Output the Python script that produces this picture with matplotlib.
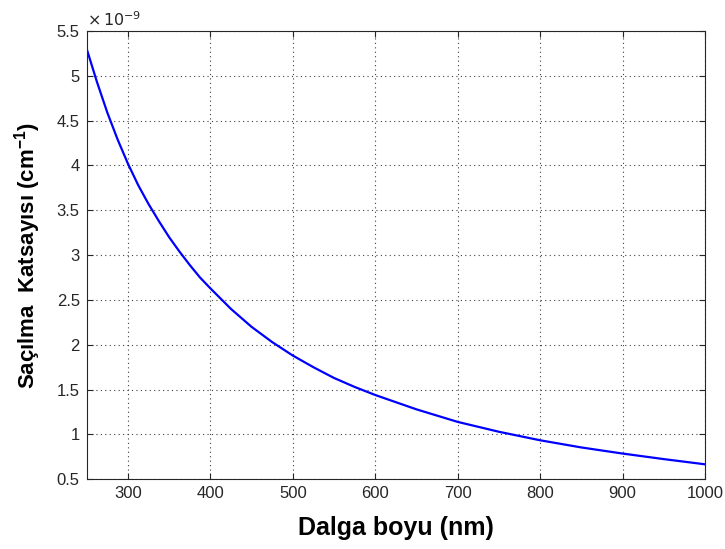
import matplotlib
matplotlib.use('Agg')
import matplotlib.pyplot as plt

plt.rcParams['font.family'] = ['Liberation Sans', 'DejaVu Sans']

# Dalga boyu (nm) ve sacilma katsayisi (x 1e-9 cm^-1)
dalga_boyu = [250, 262.5, 275, 287.5, 300, 312.5, 325, 337.5, 350, 362.5,
              375, 387.5, 400, 425, 450, 475, 500, 525, 550, 575, 600,
              625, 650, 675, 700, 750, 800, 850, 900, 950, 1000]
katsayi = [5.30, 4.93, 4.59, 4.29, 4.02, 3.78, 3.57, 3.38, 3.20, 3.04,
           2.89, 2.75, 2.63, 2.40, 2.20, 2.03, 1.88, 1.75, 1.63, 1.53, 1.44,
           1.36, 1.28, 1.21, 1.14, 1.03, 0.935, 0.855, 0.787, 0.725, 0.667]

x_ticks = [300, 400, 500, 600, 700, 800, 900, 1000]
y_ticks = [0.5, 1, 1.5, 2, 2.5, 3, 3.5, 4, 4.5, 5, 5.5]

fig = plt.figure(figsize=(7.25, 5.49), dpi=100)
ax = fig.add_axes([0.1196, 0.127, 0.8528, 0.8165])

ax.plot(dalga_boyu, katsayi, color='#0000ff', lw=1.6)

ax.set_xlim(250, 1000)
ax.set_ylim(0.5, 5.5)
ax.set_xticks(x_ticks)
ax.set_yticks(y_ticks)
ax.set_yticklabels([f'{v:g}' for v in y_ticks])
ax.tick_params(direction='in', top=True, right=True, labelsize=12, length=4,
               colors='#262626', pad=5)
ax.grid(True, ls=(0, (1, 3)), color='#404040', lw=0.8)
for s in ax.spines.values():
    s.set_color('#262626')

ax.text(0.0, 1.004, r'$\times\,10^{-9}$', transform=ax.transAxes, fontsize=11.5,
        ha='left', va='bottom', color='#262626')

ax.set_xlabel('Dalga boyu (nm)', fontsize=18, fontweight='bold', labelpad=11)
ax.set_ylabel('Saçılma  Katsayısı (cm$^{\\mathregular{-1}}$)', fontsize=16,
              fontweight='bold', labelpad=10)

fig.savefig('out.png', dpi=100)
